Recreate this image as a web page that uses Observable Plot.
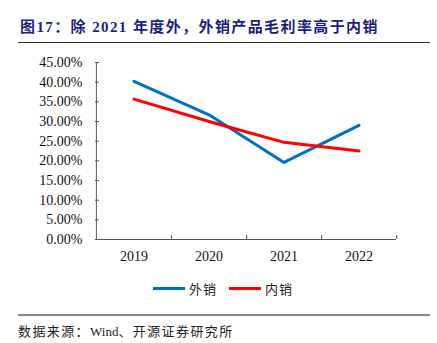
<!DOCTYPE html>
<html>
<head>
<meta charset="utf-8">
<script src="https://cdn.jsdelivr.net/npm/d3@7"></script>
<script src="https://cdn.jsdelivr.net/npm/@observablehq/plot@0.6"></script>
<style>
  html, body { margin: 0; padding: 0; background: #fff; }
  #wrap { position: relative; width: 437px; height: 343px; overflow: hidden; background: #fff; }
  #title { position: absolute; left: 20px; top: 15px; font: bold 15px "Liberation Serif", "Noto Sans CJK SC", serif; color: #1c1f7a; letter-spacing: 1.4px; white-space: nowrap; }
  #rule1 { position: absolute; left: 18px; top: 42px; width: 412px; height: 0; border-top: 1.5px solid #333; }
  #chart { position: absolute; left: 0; top: 50px; }
  #legend { position: absolute; top: 279px; left: 0; width: 437px; height: 18px; font: 13px "Noto Sans CJK SC", sans-serif; color: #222; }
  .lg { position: absolute; top: 0; display: flex; align-items: center; height: 18px; }
  .sw { display: inline-block; width: 32px; height: 3px; margin-right: 4px; }
  #rule2 { position: absolute; left: 18px; top: 314px; width: 412px; height: 0; border-top: 2px solid #8a8a8a; }
  #caption { position: absolute; left: 18px; top: 321px; font: 13px "Liberation Serif", "Noto Sans CJK SC", serif; color: #222; letter-spacing: 1.4px; white-space: nowrap; }
  #caption .w { letter-spacing: 0; }
</style>
</head>
<body>
<div id="wrap">
  <div id="title">图17：除 2021 年度外，外销产品毛利率高于内销</div>
  <div id="rule1"></div>
  <div id="chart"></div>
  <div id="legend"></div>
  <div id="rule2"></div>
  <div id="caption">数据来源：<span class="w">Wind</span>、开源证券研究所</div>
</div>
<script>
const years = ["2019", "2020", "2021", "2022"];
const exportMargin = [0.402, 0.317, 0.196, 0.290];   // 外销
const domesticMargin = [0.357, 0.300, 0.247, 0.225]; // 内销
const seriesNames = ["外销", "内销"];
const seriesColors = ["#0070C0", "#FF0000"];
const yTicks = [0, 0.05, 0.10, 0.15, 0.20, 0.25, 0.30, 0.35, 0.40, 0.45];

const data = [
  ...years.map((y, i) => ({year: y, value: exportMargin[i], series: seriesNames[0]})),
  ...years.map((y, i) => ({year: y, value: domesticMargin[i], series: seriesNames[1]}))
];

const W = 437, H = 220, ML = 95, MR = 41, MT = 12, MB = 31;
const plotW = W - ML - MR, plotH = H - MT - MB;
const bw = plotW / years.length;
const axisColor = "#555";

const chart = Plot.plot({
  width: W, height: H,
  marginLeft: ML, marginRight: MR, marginTop: MT, marginBottom: MB,
  style: {fontFamily: "Liberation Serif, serif", fontSize: "14px", color: "#111", background: "#fff"},
  x: {type: "band", domain: years, paddingInner: 0, paddingOuter: 0},
  y: {domain: [0, 0.45]},
  color: {domain: seriesNames, range: seriesColors},
  marks: [
    Plot.axisY(yTicks, {tickSize: 0, tickPadding: 13, tickFormat: d3.format(".2%"), label: null}),
    Plot.axisX({tickSize: 0, tickPadding: 12, label: null}),
    Plot.ruleY(yTicks, {stroke: axisColor, insetRight: plotW - 4}),
    Plot.ruleX(years, {dx: bw / 2, stroke: axisColor, insetTop: plotH - 4}),
    Plot.ruleX([years[0]], {dx: -bw / 2, stroke: axisColor}),
    Plot.ruleY([0], {stroke: axisColor}),
    Plot.line(data, {x: "year", y: "value", z: "series", stroke: "series", strokeWidth: 3, strokeLinejoin: "round"})
  ]
});
document.getElementById("chart").appendChild(chart);

const legend = document.getElementById("legend");
const lgLeft = [153, 229];
seriesNames.forEach((name, i) => {
  const item = document.createElement("div");
  item.className = "lg";
  item.style.left = lgLeft[i] + "px";
  item.innerHTML = `<span class="sw" style="background:${seriesColors[i]}"></span><span style="letter-spacing:1px">${name}</span>`;
  legend.appendChild(item);
});
</script>
</body>
</html>
